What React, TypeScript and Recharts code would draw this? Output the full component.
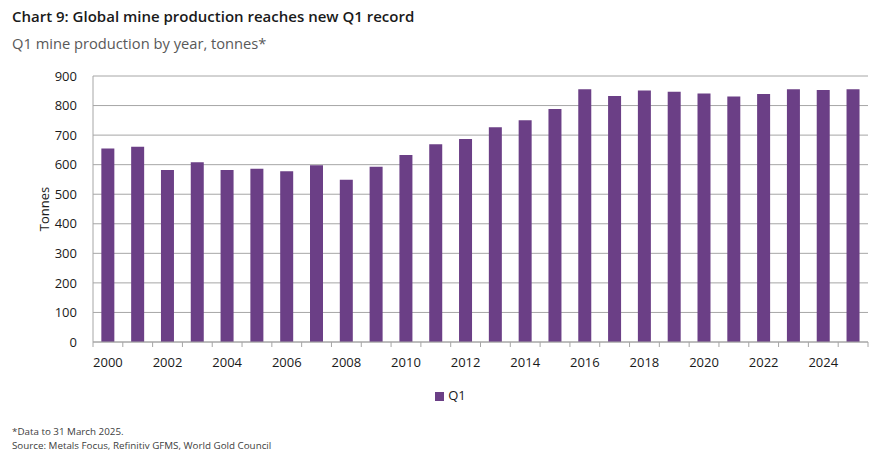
import { BarChart, Bar, XAxis, YAxis, CartesianGrid, Legend } from 'recharts'

const years = [
  '2000', '2001', '2002', '2003', '2004', '2005', '2006', '2007', '2008', '2009',
  '2010', '2011', '2012', '2013', '2014', '2015', '2016', '2017', '2018', '2019',
  '2020', '2021', '2022', '2023', '2024', '2025',
]
const q1Tonnes = [
  655, 661, 582, 608, 582, 586, 578, 598, 549, 593,
  633, 669, 687, 727, 750, 788, 855, 832, 851, 847,
  841, 831, 839, 855, 853, 855,
]
const yTicks = [0, 100, 200, 300, 400, 500, 600, 700, 800, 900]

const PURPLE = '#6B3F86'
const GRID = '#a6a6a6'
const FONT = '"Open Sans", "Noto Sans", sans-serif'

const data = years.map((year, i) => ({ year, q1: q1Tonnes[i] }))

// label every other year, tick marks sit between the bars
function YearTick(props: any) {
  const { x, y, payload, index } = props
  const off = payload.offset ?? 0
  const last = index === years.length - 1
  return (
    <g>
      <line x1={x - off} x2={x - off} y1={y} y2={y + 5} stroke={GRID} />
      {last && <line x1={x + off} x2={x + off} y1={y} y2={y + 5} stroke={GRID} />}
      {index % 2 === 0 && (
        <text x={x} y={y + 25} textAnchor="middle" fontSize={13} fill="#1a1a1a" fontFamily={FONT}>
          {payload.value}
        </text>
      )}
    </g>
  )
}

export default function App() {
  return (
    <div style={{ position: 'absolute', left: 0, top: 0, width: 884, height: 456, background: '#fff', fontFamily: FONT }}>
      <div style={{ position: 'absolute', left: 12, top: 6, fontSize: 15, fontWeight: 600, color: '#1a1a1a' }}>
        Chart 9: Global mine production reaches new Q1 record
      </div>
      <div style={{ position: 'absolute', left: 12, top: 33, fontSize: 14.7, color: '#595959' }}>
        Q1 mine production by year, tonnes*
      </div>

      <BarChart
        width={884}
        height={418}
        data={data}
        margin={{ top: 76, right: 16, bottom: 0, left: 43 }}
        barCategoryGap="28%"
        style={{ position: 'absolute', left: 0, top: 0 }}
      >
        <CartesianGrid vertical={false} stroke={GRID} />
        <XAxis
          dataKey="year"
          interval={0}
          height={30}
          tickLine={false}
          tickSize={0}
          tickMargin={0}
          axisLine={{ stroke: GRID }}
          tick={<YearTick />}
        />
        <YAxis
          width={50}
          domain={[0, 900]}
          ticks={yTicks}
          tickLine={false}
          axisLine={{ stroke: GRID }}
          tickMargin={10}
          tick={{ fontSize: 13, fill: '#1a1a1a', fontFamily: FONT }}
          label={{
            value: 'Tonnes',
            angle: -90,
            position: 'insideLeft',
            offset: 1,
            style: { textAnchor: 'middle', fontSize: 13, fill: '#1a1a1a', fontFamily: FONT },
          }}
        />
        <Legend
          verticalAlign="bottom"
          height={32}
          iconType="square"
          iconSize={9}
          wrapperStyle={{ paddingTop: 14, fontSize: 13, fontFamily: FONT }}
          formatter={() => <span style={{ color: '#1a1a1a' }}>Q1</span>}
        />
        <Bar dataKey="q1" name="Q1" fill={PURPLE} isAnimationActive={false} />
      </BarChart>

      <div style={{ position: 'absolute', left: 12, top: 425, fontSize: 9.8, color: '#404040', lineHeight: '13.5px' }}>
        *Data to 31 March 2025.
        <br />
        Source: Metals Focus, Refinitiv GFMS, World Gold Council
      </div>
    </div>
  )
}
